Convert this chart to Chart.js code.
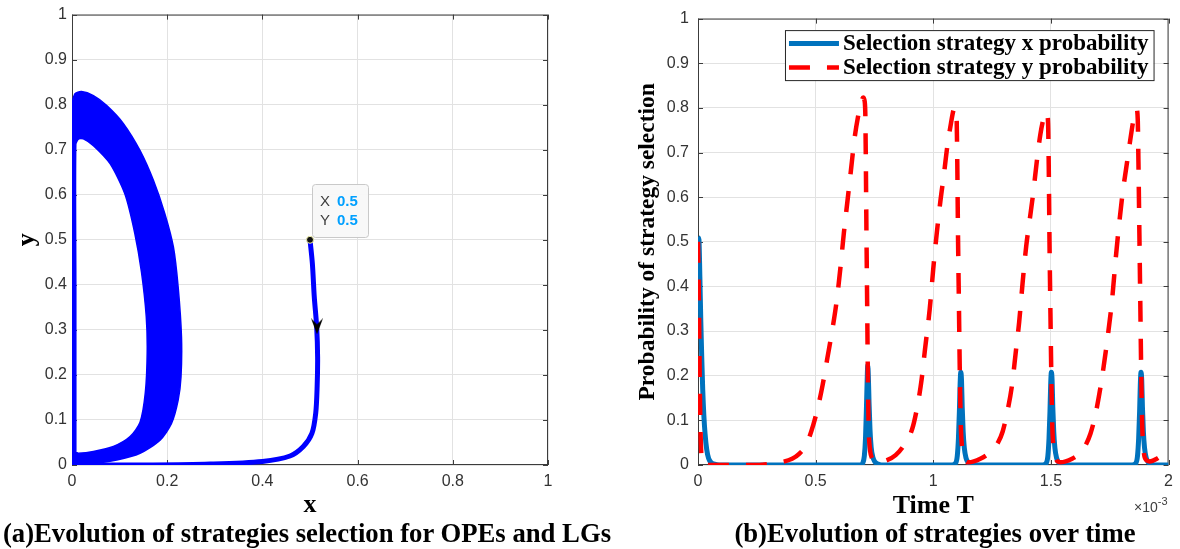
<!DOCTYPE html>
<html>
<head>
<meta charset="utf-8">
<script src="https://cdn.jsdelivr.net/npm/chart.js@4.4.1/dist/chart.umd.min.js"></script>
<style>
  html, body { margin: 0; padding: 0; background: #fff; }
  #wrap { position: relative; width: 1180px; height: 549px; overflow: hidden; }
  .panel { position: absolute; top: 0; }
  #left { left: 0; }
  #right { left: 600px; }
  .caption {
    position: absolute; top: 518px; line-height: 1; white-space: nowrap;
    font: bold 26.7px "Liberation Serif", "Times New Roman", serif; color: #000;
    transform: translateX(-50%);
  }
</style>
</head>
<body>
<div id="wrap">
  <div class="panel" id="left"><canvas id="phase" width="600" height="549"></canvas></div>
  <div class="panel" id="right"><canvas id="series" width="580" height="549"></canvas></div>
  <div class="caption" style="left:307px">(a)Evolution of strategies selection for OPEs and LGs</div>
  <div class="caption" style="left:935px">(b)Evolution of strategies over time</div>
</div>
<script>
(function () {
  // ---- (a) phase portrait x-y ----
  // starting point of the trajectory (shown in the data tip)
  const tipX = [0.5];
  const tipY = [0.5];

  // path from the start point down to the x axis and up the y axis
  const trajX = [0.5, 0.505, 0.509, 0.514, 0.516, 0.515, 0.512, 0.504, 0.486, 0.458, 0.40, 0.29, 0.17, 0, 0, 0];
  const trajY = [0.5, 0.447, 0.373, 0.307, 0.24, 0.174, 0.115, 0.07, 0.041, 0.02, 0.008, 0.002, 0, 0, 0.40, 0.79];

  // direction arrow on the trajectory
  const arrowX = [0.5147];
  const arrowY = [0.308];

  // band of limit-cycle orbits: outer edge clockwise, then inner edge the other way round
  const bandX = [0, 0, 0, 0.006, 0.02, 0.045, 0.073, 0.108, 0.143, 0.171, 0.195, 0.213, 0.223, 0.230, 0.229, 0.223, 0.209, 0.185, 0.143, 0.094, 0.038, 0.003,
                 0.008, 0.013, 0.045, 0.087, 0.122, 0.143, 0.154, 0.158, 0.156, 0.146, 0.132, 0.111, 0.080, 0.045, 0.024, 0.014, 0.008, 0.008, 0.008];
  const bandY = [0, 0.40, 0.79, 0.824, 0.829, 0.82, 0.798, 0.758, 0.698, 0.632, 0.558, 0.484, 0.395, 0.284, 0.196, 0.144, 0.092, 0.055, 0.026, 0.011, 0.002, 0,
                 0.028, 0.026, 0.03, 0.041, 0.063, 0.095, 0.16, 0.25, 0.33, 0.428, 0.514, 0.602, 0.669, 0.709, 0.724, 0.724, 0.712, 0.40, 0.028];

  // ---- (b) strategy probabilities over time (T in units of 1e-3) ----
  const tX = [0, 0.004, 0.008, 0.012, 0.016, 0.02, 0.025, 0.03, 0.037, 0.045, 0.055, 0.07, 0.09,
              0.69, 0.70, 0.707, 0.712, 0.716, 0.719, 0.7215, 0.724, 0.727, 0.731, 0.736, 0.743, 0.752, 0.765, 0.78,
              1.08, 1.095, 1.102, 1.107, 1.111, 1.114, 1.117, 1.12, 1.123, 1.127, 1.132, 1.139, 1.148, 1.16, 1.175,
              1.465, 1.48, 1.487, 1.492, 1.496, 1.499, 1.502, 1.505, 1.508, 1.512, 1.517, 1.524, 1.533, 1.545, 1.56,
              1.845, 1.861, 1.868, 1.873, 1.877, 1.88, 1.883, 1.886, 1.889, 1.893, 1.898, 1.905, 1.914, 1.926, 1.94, 2.0];
  const xProb = [0.51, 0.505, 0.42, 0.32, 0.24, 0.17, 0.11, 0.07, 0.035, 0.015, 0.006, 0.002, 0,
                 0, 0.004, 0.02, 0.06, 0.13, 0.19, 0.223, 0.2, 0.14, 0.08, 0.04, 0.018, 0.007, 0.002, 0,
                 0, 0.004, 0.02, 0.06, 0.12, 0.18, 0.208, 0.19, 0.13, 0.075, 0.038, 0.016, 0.006, 0.002, 0,
                 0, 0.004, 0.02, 0.06, 0.12, 0.18, 0.208, 0.19, 0.13, 0.075, 0.038, 0.016, 0.006, 0.002, 0,
                 0, 0.004, 0.02, 0.06, 0.12, 0.18, 0.208, 0.19, 0.13, 0.075, 0.038, 0.016, 0.006, 0.002, 0, 0];

  const tY = [0, 0.004, 0.008, 0.012, 0.017, 0.025,
              0.26, 0.30, 0.35, 0.40, 0.43, 0.46, 0.49, 0.51, 0.53, 0.55, 0.57, 0.59, 0.605, 0.62, 0.635, 0.65, 0.665, 0.68, 0.693, 0.702, 0.707,
              0.711, 0.713, 0.716, 0.719, 0.722, 0.725, 0.73, 0.74, 0.76,
              0.80, 0.84, 0.88, 0.91, 0.93, 0.95, 0.965, 0.985, 1.0, 1.015, 1.03, 1.045, 1.06, 1.075, 1.086, 1.093,
              1.099, 1.102, 1.105, 1.109, 1.113, 1.117, 1.122, 1.13, 1.15,
              1.20, 1.24, 1.275, 1.295, 1.315, 1.335, 1.35, 1.365, 1.38, 1.395, 1.41, 1.425, 1.44, 1.455, 1.468, 1.477, 1.483,
              1.488, 1.491, 1.494, 1.498, 1.502, 1.506, 1.511, 1.52, 1.54,
              1.59, 1.62, 1.645, 1.668, 1.688, 1.706, 1.724, 1.742, 1.76, 1.775, 1.79, 1.805, 1.82, 1.835, 1.848, 1.857, 1.864,
              1.869, 1.872, 1.876, 1.88, 1.884, 1.888, 1.893, 1.90, 1.92,
              1.95, 1.975, 2.0];
  const yProb = [0.5, 0.36, 0.16, 0.05, 0.01, 0,
                 0, 0.002, 0.006, 0.014, 0.025, 0.045, 0.09, 0.13, 0.18, 0.24, 0.30, 0.37, 0.44, 0.52, 0.59, 0.66, 0.73, 0.78, 0.81, 0.823, 0.818,
                 0.79, 0.70, 0.52, 0.36, 0.20, 0.09, 0.04, 0.015, 0.006,
                 0.01, 0.022, 0.048, 0.08, 0.125, 0.19, 0.26, 0.35, 0.44, 0.52, 0.59, 0.65, 0.715, 0.765, 0.795, 0.80,
                 0.78, 0.68, 0.52, 0.36, 0.20, 0.09, 0.04, 0.015, 0.006,
                 0.014, 0.028, 0.05, 0.075, 0.12, 0.18, 0.25, 0.32, 0.41, 0.49, 0.55, 0.61, 0.68, 0.74, 0.775, 0.79, 0.788,
                 0.765, 0.66, 0.50, 0.34, 0.19, 0.085, 0.04, 0.015, 0.006,
                 0.014, 0.025, 0.042, 0.07, 0.11, 0.16, 0.22, 0.29, 0.37, 0.46, 0.54, 0.61, 0.665, 0.72, 0.765, 0.792, 0.797,
                 0.775, 0.68, 0.52, 0.36, 0.20, 0.09, 0.04, 0.015, 0.008,
                 0.014, 0.024, 0.04];

  const seriesLabels = ["Selection strategy x probability", "Selection strategy y probability"];
  const timeExponent = "-3";

  const pts = (xs, ys) => xs.map((x, i) => ({ x, y: ys[i] }));
  const fmt = (v) => String(Math.round(v * 10) / 10);
  const sans = '"Liberation Sans", Arial, sans-serif';
  const serif = '"Liberation Serif", "Times New Roman", serif';

  // MATLAB-like box with inward ticks on all four sides
  const frameTicks = {
    id: "frameTicks",
    beforeDatasetsDraw(chart) {
      const { ctx, chartArea: a, scales } = chart;
      ctx.save();
      ctx.strokeStyle = "#3c3c3c";
      ctx.lineWidth = 1;
      ctx.strokeRect(a.left + 0.5, a.top + 0.5, a.right - a.left - 1, a.bottom - a.top - 1);
      ctx.beginPath();
      scales.x.ticks.forEach((t, i) => {
        const px = Math.round(scales.x.getPixelForTick(i)) + 0.5;
        ctx.moveTo(px, a.bottom); ctx.lineTo(px, a.bottom - 5);
        ctx.moveTo(px, a.top); ctx.lineTo(px, a.top + 5);
      });
      scales.y.ticks.forEach((t, i) => {
        const py = Math.round(scales.y.getPixelForTick(i)) + 0.5;
        ctx.moveTo(a.left, py); ctx.lineTo(a.left + 5, py);
        ctx.moveTo(a.right, py); ctx.lineTo(a.right - 5, py);
      });
      ctx.stroke();
      ctx.restore();
    }
  };

  function axis(min, max, step, pad, title, titleSize, titlePad, fitFn) {
    return {
      type: "linear", min, max,
      border: { display: false },
      grid: { color: "#e2e2e2", lineWidth: 1, drawTicks: false },
      ticks: {
        stepSize: step, padding: pad, color: "#333",
        font: { family: sans, size: 16, lineHeight: 1.2 },
        callback: (v) => fmt(v)
      },
      title: {
        display: true, text: title, color: "#000", padding: titlePad,
        font: { family: serif, weight: "bold", size: titleSize, lineHeight: 1 }
      },
      afterFit: fitFn
    };
  }

  // ---- draw (a) ----
  const arrowImg = document.createElement("canvas");
  arrowImg.width = 12; arrowImg.height = 16;
  const g = arrowImg.getContext("2d");
  g.fillStyle = "#000";
  g.beginPath();
  g.moveTo(6, 16); g.lineTo(0, 0); g.lineTo(6, 6); g.lineTo(12, 0);
  g.closePath(); g.fill();

  const dataTip = {
    id: "dataTip",
    afterDraw(chart) {
      const { ctx, scales: { x, y } } = chart;
      const px = x.getPixelForValue(tipX[0]);
      const py = y.getPixelForValue(tipY[0]);
      const bx = Math.round(px) + 2, by = Math.round(py) - 56, bw = 56, bh = 53;
      ctx.save();
      ctx.fillStyle = "rgba(248,248,248,0.96)";
      ctx.strokeStyle = "#c9c9c9";
      ctx.lineWidth = 1;
      ctx.beginPath();
      if (ctx.roundRect) ctx.roundRect(bx + 0.5, by + 0.5, bw, bh, 3); else ctx.rect(bx + 0.5, by + 0.5, bw, bh);
      ctx.fill(); ctx.stroke();
      ctx.textBaseline = "middle";
      ctx.font = "15px " + sans;
      ctx.fillStyle = "#404040";
      ctx.fillText("X", bx + 8, by + 18);
      ctx.fillText("Y", bx + 8, by + 37);
      ctx.font = "bold 15px " + sans;
      ctx.fillStyle = "#00a0ff";
      ctx.fillText(String(tipX[0]), bx + 25, by + 18);
      ctx.fillText(String(tipY[0]), bx + 25, by + 37);
      ctx.restore();
    }
  };

  new Chart(document.getElementById("phase"), {
    type: "scatter",
    data: {
      datasets: [
        { label: "start", data: pts(tipX, tipY), pointRadius: 3.5, pointBackgroundColor: "#111",
          pointBorderColor: "#eeeea8", pointBorderWidth: 1 },
        { label: "direction", data: pts(arrowX, arrowY), pointStyle: arrowImg, pointRadius: 6 },
        { label: "trajectory", data: pts(trajX, trajY), showLine: true, borderColor: "#0000ff",
          borderWidth: 5, pointRadius: 0, tension: 0.3 },
        { label: "cycle band", data: pts(bandX, bandY), showLine: true, fill: "shape",
          backgroundColor: "#0000ff", borderColor: "#0000ff", borderWidth: 1.5, pointRadius: 0, tension: 0.25 }
      ]
    },
    options: {
      responsive: false, animation: false, events: [],
      layout: { padding: { left: 0, top: 13, right: 52, bottom: 0 } },
      plugins: { legend: { display: false }, tooltip: { enabled: false } },
      scales: {
        x: axis(0, 1, 0.2, 7, "x", 26, { top: 0, bottom: 31 }, (s) => { s.height = 84; }),
        y: axis(0, 1, 0.1, 5, "y", 26, { top: 14, bottom: 0 }, (s) => { s.width = 72; })
      }
    },
    plugins: [frameTicks, dataTip]
  });

  // ---- draw (b) ----
  const boxLegend = {
    id: "boxLegend",
    afterDraw(chart) {
      const { ctx, chartArea: a } = chart;
      const ds = chart.data.datasets;
      ctx.save();
      ctx.font = "bold 23px " + serif;
      const textW = Math.max(...ds.map((d) => ctx.measureText(d.label).width));
      const w = 4 + 50 + 4 + textW + 5, h = 50;
      const left = a.right - 15 - w, top = a.top + 11.5;
      ctx.fillStyle = "#fff";
      ctx.fillRect(left, top, w, h);
      ctx.strokeStyle = "#262626";
      ctx.lineWidth = 1;
      ctx.strokeRect(left + 0.5, top + 0.5, w, h);
      ds.forEach((d, i) => {
        const cy = top + 13.5 + i * 24;
        ctx.setLineDash(d.borderDash || []);
        ctx.lineWidth = d.borderWidth;
        ctx.strokeStyle = d.borderColor;
        ctx.beginPath();
        ctx.moveTo(left + 4, cy); ctx.lineTo(left + 54, cy);
        ctx.stroke();
        ctx.setLineDash([]);
        ctx.fillStyle = "#000";
        ctx.textBaseline = "middle";
        ctx.fillText(d.label, left + 58, cy);
      });
      // axis exponent under the last x tick
      ctx.fillStyle = "#404040";
      ctx.font = "14px " + sans;
      ctx.textBaseline = "middle";
      const base = "\u00d710";
      const bw = ctx.measureText(base).width;
      ctx.font = "11px " + sans;
      const ew = ctx.measureText(timeExponent).width;
      const x0 = a.right - bw - ew - 1;
      ctx.font = "14px " + sans;
      ctx.fillText(base, x0, a.bottom + 43);
      ctx.font = "11px " + sans;
      ctx.fillText(timeExponent, x0 + bw, a.bottom + 37);
      ctx.restore();
    }
  };

  new Chart(document.getElementById("series"), {
    type: "scatter",
    data: {
      datasets: [
        { label: seriesLabels[0], data: pts(tX, xProb), showLine: true, borderColor: "#0072bd",
          borderWidth: 5, pointRadius: 0, cubicInterpolationMode: "monotone", order: 2 },
        { label: seriesLabels[1], data: pts(tY, yProb), showLine: true, borderColor: "#ff0000",
          borderWidth: 4.5, borderDash: [21, 17], pointRadius: 0, cubicInterpolationMode: "monotone", order: 1 }
      ]
    },
    options: {
      responsive: false, animation: false, events: [],
      layout: { padding: { left: 0, top: 13, right: 8, bottom: 0 } },
      plugins: { legend: { display: false }, tooltip: { enabled: false } },
      scales: {
        x: axis(0, 2, 0.5, 7, "Time T", 26, { top: 0, bottom: 30 }, (s) => { s.height = 84; }),
        y: axis(0, 1, 0.1, 9, "Probability of strategy selection", 23.5, { top: 36, bottom: 0 }, (s) => { s.width = 98; })
      }
    },
    plugins: [frameTicks, boxLegend]
  });
})();
</script>
</body>
</html>
